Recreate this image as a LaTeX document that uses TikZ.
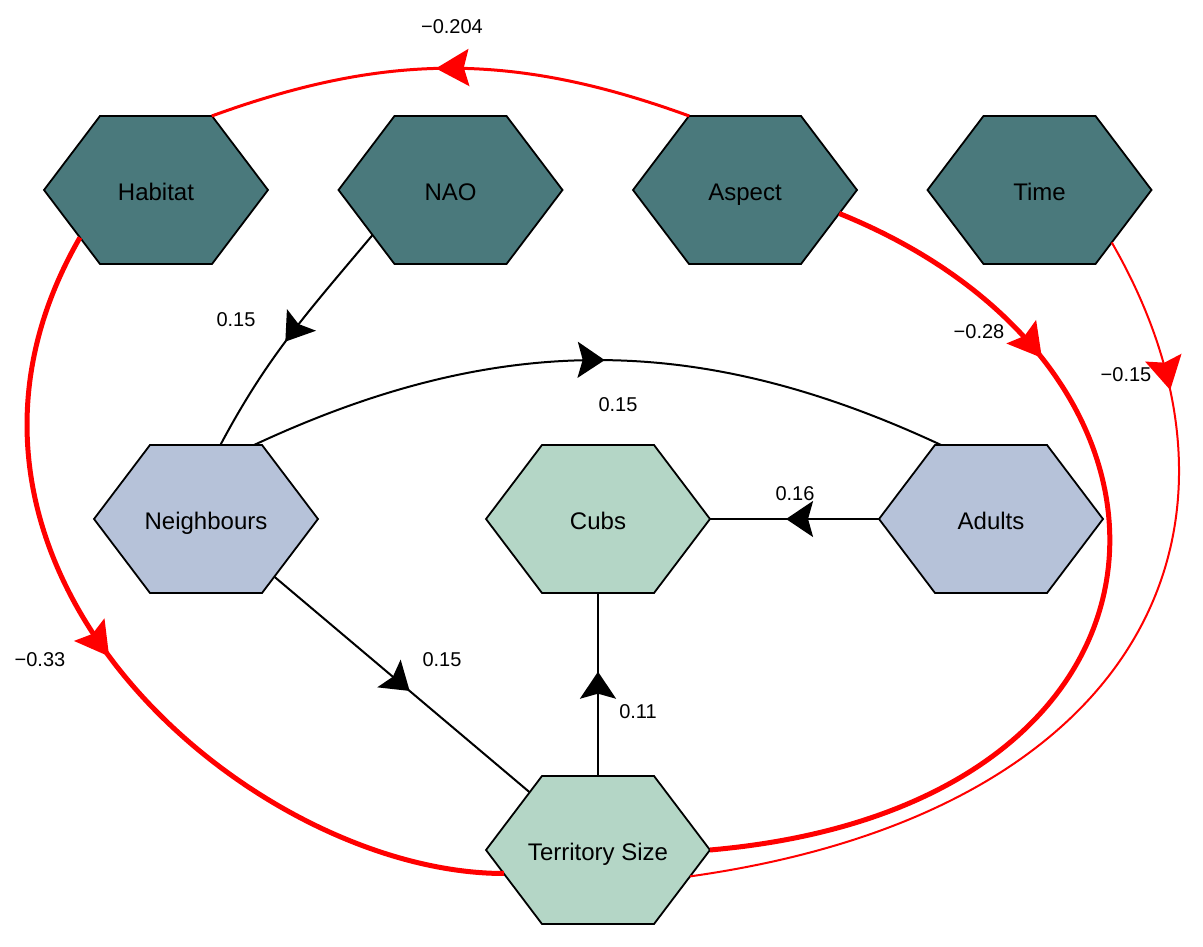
\documentclass[tikz,border=0pt]{standalone}
\usepackage{fontspec}
\setmainfont{Liberation Sans}
\usetikzlibrary{positioning,arrows.meta,decorations.markings}

\definecolor{exocol}{HTML}{4A797C}
\definecolor{midcol}{HTML}{B6C2D9}
\definecolor{endcol}{HTML}{B4D6C6}

% hexagon node: rectangle size, pointed left and right
\makeatletter
\pgfdeclareshape{hexbox}{
  \inheritsavedanchors[from=rectangle]
  \inheritanchor[from=rectangle]{center}
  \inheritanchor[from=rectangle]{text}
  \inheritanchor[from=rectangle]{base}
  \inheritanchor[from=rectangle]{mid}
  \inheritanchor[from=rectangle]{north}
  \inheritanchor[from=rectangle]{south}
  \inheritanchor[from=rectangle]{east}
  \inheritanchor[from=rectangle]{west}
  \backgroundpath{%
    \southwest \edef\hexl{\the\pgf@x}\edef\hexb{\the\pgf@y}%
    \northeast \edef\hexr{\the\pgf@x}\edef\hext{\the\pgf@y}%
    \edef\hexcx{\the\dimexpr(\hexl+\hexr)/2\relax}%
    \edef\hexcy{\the\dimexpr(\hexb+\hext)/2\relax}%
    \edef\hexq{\the\dimexpr(\hexr-\hexl)/4\relax}%
    \pgfpathmoveto{\pgfqpoint{\hexl}{\hexcy}}%
    \pgfpathlineto{\pgfqpoint{\dimexpr\hexcx-\hexq\relax}{\hext}}%
    \pgfpathlineto{\pgfqpoint{\dimexpr\hexcx+\hexq\relax}{\hext}}%
    \pgfpathlineto{\pgfqpoint{\hexr}{\hexcy}}%
    \pgfpathlineto{\pgfqpoint{\dimexpr\hexcx+\hexq\relax}{\hexb}}%
    \pgfpathlineto{\pgfqpoint{\dimexpr\hexcx-\hexq\relax}{\hexb}}%
    \pgfpathclose
  }
  \anchorborder{%
    \pgfpointnormalised{\pgfqpoint{\pgf@x}{\pgf@y}}%
    \edef\hexdx{\the\pgf@x}\edef\hexdy{\the\pgf@y}%
    \southwest \edef\hexl{\the\pgf@x}\edef\hexb{\the\pgf@y}%
    \northeast \edef\hexr{\the\pgf@x}\edef\hext{\the\pgf@y}%
    \edef\hexcx{\the\dimexpr(\hexl+\hexr)/2\relax}%
    \edef\hexcy{\the\dimexpr(\hexb+\hext)/2\relax}%
    \edef\hexhw{\the\dimexpr(\hexr-\hexl)/2\relax}%
    \edef\hexhh{\the\dimexpr(\hext-\hexb)/2\relax}%
    \pgfmathsetmacro\hexs{(abs(\hexdx)*\hexhh < 0.5*\hexhw*abs(\hexdy)) ? \hexhh/max(abs(\hexdy),0.01) : \hexhw/(abs(\hexdx)+0.5*\hexhw/\hexhh*abs(\hexdy))}%
    \pgf@x=\hexs\dimexpr\hexdx\relax
    \advance\pgf@x by \hexcx
    \pgf@y=\hexs\dimexpr\hexdy\relax
    \advance\pgf@y by \hexcy
  }
}
\makeatother

\begin{document}
\begin{tikzpicture}[x=1pt,y=1pt,node distance=294.5pt,
    hexa/.style={hexbox,draw,line width=1.8pt,minimum width=224pt,minimum height=148pt,
      inner sep=0pt,outer sep=0pt,text height=22pt,text depth=0pt,font=\fontsize{24}{28}\selectfont},
    lbl/.style={font=\fontsize{20}{24}\selectfont,inner sep=0pt},
    posline/.style={black,line width=2pt},
    negline/.style={red},
    midtip/.style={postaction={decorate,decoration={markings,
      mark=at position #1 with {\arrow{Stealth[length=27pt,width=36pt,inset=5pt]}}}}},
    bigtip/.style={postaction={decorate,decoration={markings,
      mark=at position #1 with {\arrow{Stealth[length=33pt,width=37pt,inset=5pt]}}}}}]
    \useasboundingbox (0,0) rectangle (1203,946);
    \node[hexa,fill=exocol] (habitat) at (156,756) {Habitat};
    \node[hexa,fill=exocol] (nao) [right of=habitat] {NAO};
    \node[hexa,fill=exocol] (aspect) [right of=nao] {Aspect};
    \node[hexa,fill=exocol] (time) [right of=aspect] {Time};
    \node[hexa,fill=endcol] (cubs) at (598,427) {Cubs};
    \node[hexa,fill=midcol] (neighbours) [left of=cubs,node distance=392pt] {Neighbours};
    \node[hexa,fill=midcol] (adults) [right of=cubs,node distance=393pt] {Adults};
    \node[hexa,fill=endcol] (territory) [below of=cubs,node distance=331pt] {Territory Size};
    % positive paths
    \path[posline]
    (nao.210) edge[out=230,in=62,midtip=0.53] (neighbours.79)
    (neighbours.57) edge[out=25,in=155,midtip=0.51] (adults.124)
    (adults) edge[midtip=0.55] (cubs)
    (neighbours) edge[midtip=0.53] (territory)
    (territory) edge[midtip=0.57] (cubs);
    % negative paths
    \path[negline]
    (aspect.127) edge[out=160,in=20,line width=3pt,bigtip=0.53] (habitat.53)
    (habitat.212) edge[out=240,in=180,out distance=380pt,in distance=250pt,line width=5pt,bigtip=0.49] (territory.194)
    (aspect.346) edge[out=338,in=5,out distance=420pt,in distance=500pt,line width=5pt,bigtip=0.25] (territory.0)
    (time.324) edge[out=300,in=8,out distance=325pt,in distance=460pt,line width=2pt,bigtip=0.17] (territory.344);
    % coefficients
    \node[lbl] (c204) at (452,919) {−0.204};
    \node[lbl] (c15a) at (236,626) {0.15};
    \node[lbl] (c28) at (979,614) {−0.28};
    \node[lbl] (c15b) at (1126,571) {−0.15};
    \node[lbl] (c15c) at (618,541) {0.15};
    \node[lbl] (c16) at (795,452) {0.16};
    \node[lbl] (c33) at (40,286) {−0.33};
    \node[lbl] (c15d) at (442,286) {0.15};
    \node[lbl] (c11) at (638,234) {0.11};
\end{tikzpicture}
\end{document}
